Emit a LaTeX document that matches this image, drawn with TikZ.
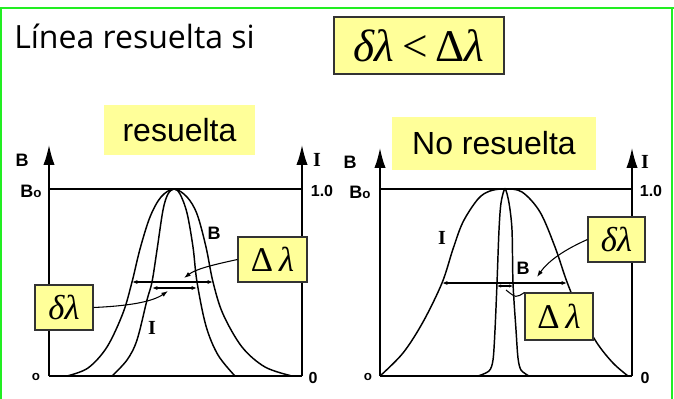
\documentclass[tikz,border=0pt]{standalone}
\usepackage{fontspec}
\setmainfont{Liberation Sans}
\newfontfamily\titlefont{Open Sans}
\newfontfamily\tms{Liberation Serif}
\usetikzlibrary{arrows.meta}
\definecolor{boxyellow}{HTML}{FFFF99}
\definecolor{framegreen}{HTML}{22EE22}
\begin{document}
\begin{tikzpicture}[x=0.75pt,y=-0.75pt,
  axisline/.style={line width=1.2pt},
  axisarrow/.style={line width=1.2pt,-{Latex[length=15pt,width=8.5pt]}},
  topline/.style={line width=0.8pt},
  curve/.style={line width=1.1pt},
  dim/.style={line width=0.8pt,{Latex[length=4pt,width=3pt]}-{Latex[length=4pt,width=3pt]}},
  leader/.style={line width=0.8pt,-{Latex[length=5pt,width=3.5pt]}},
  plainleader/.style={line width=0.8pt},
  axlab/.style={font=\fontsize{13.5}{13.5}\selectfont\bfseries, inner sep=0pt},
  numlab/.style={font=\fontsize{12}{12}\selectfont\bfseries, inner sep=0pt},
  serlab/.style={font=\fontsize{15}{15}\selectfont\tms\bfseries, inner sep=0pt},
  ybox/.style={fill=boxyellow, draw=black!80, line width=0.8pt, inner sep=0pt},
  headbox/.style={fill=boxyellow, inner sep=0pt, font=\fontsize{24}{24}\selectfont},
  greek/.style={font=\fontsize{26}{26}\selectfont\tms}
]
\useasboundingbox (0,0) rectangle (674,399);
\fill[white] (0,0) rectangle (674,399);
% frame
\draw[framegreen, line width=2.2pt] (0,8) -- (674,8);
\draw[framegreen, line width=1.2pt] (1,8) -- (1,399);
\draw[framegreen, line width=1.2pt] (672,8) -- (672,399);

% title
\node[anchor=base west, inner sep=0pt, font=\fontsize{24}{24}\selectfont\titlefont] (title) at (14,49) {Línea resuelta si};
\node[ybox, minimum width=170*0.75pt, minimum height=57*0.75pt, font=\fontsize{34}{34}\selectfont\tms] (cond) at (419,45.5) {\itshape δλ\/\upshape\,<\,Δ\itshape λ};

% headings
\node[headbox, minimum width=151*0.75pt, minimum height=50*0.75pt] (res) at (179.5,130) {resuelta};
\node[headbox, minimum width=204*0.75pt, minimum height=53*0.75pt] (nores) at (494,143.5) {No resuelta};

% ---------- left graph ----------
\draw[axisline] (49,376) -- (302,376);
\draw[axisarrow] (49,376) -- (49,145);
\draw[axisarrow] (302,376) -- (302,145);
\draw[topline] (49,189) -- (302,189);
% wide B
\draw[curve] plot[smooth, tension=0.55] coordinates {(67,376) (88,368) (107,347) (123,313) (132,282) (140,249) (150,217) (161,197) (174,189) (187,197) (197,214) (206,247) (213,282) (223,314) (242,347) (265,367) (292,376)};
% narrow I
\draw[curve] plot[smooth, tension=0.55] coordinates {(112,376) (127,360) (137,340) (147,300) (152,282) (157,250) (163,210) (168,194) (174,189) (180,194) (187,213) (193,247) (197,282) (206,326) (218,355) (235,376)};
% dimension lines
\coordinate (LW1) at (132,282); \coordinate (LW2) at (213,282);
\coordinate (LN1) at (152,288); \coordinate (LN2) at (197,288);
\draw[dim] (LW1) -- (LW2);
\draw[dim] (LN1) -- (LN2);
% labels
\node[axlab] (lB) at (22,160) {B};
\node[axlab] (lBo) at (31,191) {B{\fontsize{10}{10}\selectfont o}};
\node[serlab] (lI) at (317,160) {I};
\node[numlab] (l10) at (322,191) {1.0};
\node[axlab] (lo) at (36,377) {{\fontsize{10}{10}\selectfont o}};
\node[numlab] (l0) at (313,378) {0};
\node[axlab] (lcB) at (214,233) {B};
\node[serlab] (lcI) at (152,328) {I};
% boxes
\node[ybox, minimum width=69*0.75pt, minimum height=45*0.75pt, greek] (lDL) at (272.5,259.5) {Δ\,\itshape λ};
\node[ybox, minimum width=58*0.75pt, minimum height=45*0.75pt, greek] (ldl) at (64,307.5) {\itshape δλ};
\coordinate (lDLt) at (184,278);
\coordinate (ldlt) at (168,291);
\draw[leader] (lDL.west) .. controls (212,265) and (196,269) .. (lDLt);
\draw[leader] (ldl.east) .. controls (128,306) and (152,302) .. (ldlt);

% ---------- right graph ----------
\draw[axisline] (380,376) -- (632,376);
\draw[axisarrow] (380,376) -- (380,148);
\draw[axisarrow] (632,376) -- (632,148);
\draw[topline] (380,189) -- (632,189);
% wide I
\draw[curve] plot[smooth, tension=0.55] coordinates {(380,376) (403,353) (423,322) (442,283) (453,249) (463,222) (478,199) (490,191) (505,189) (522,192) (540,212) (555,247) (567,282) (580,313) (597,343) (613,363) (628,376)};
% narrow B
\draw[curve] plot[smooth, tension=0.5] coordinates {(478,376) (489,371) (493,360) (495,330) (497,283) (499,230) (501,203) (505,189) (509,203) (512,230) (513,283) (516,330) (518,358) (521,370) (529,376)};
\coordinate (RW1) at (442,283); \coordinate (RW2) at (567,283);
\coordinate (RN1) at (497,286); \coordinate (RN2) at (513,286);
\draw[dim] (RW1) -- (RW2);
\draw[line width=0.8pt,{Latex[length=3pt,width=2.5pt]}-{Latex[length=3pt,width=2.5pt]}] (RN1) -- (RN2);
\node[axlab] (rB) at (350,162) {B};
\node[axlab] (rBo) at (360,192) {B{\fontsize{10}{10}\selectfont o}};
\node[serlab] (rI) at (645,162) {I};
\node[numlab] (r10) at (651,191) {1.0};
\node[axlab] (ro) at (368,377) {{\fontsize{10}{10}\selectfont o}};
\node[numlab] (r0) at (645,378) {0};
\node[serlab] (rcI) at (442,238) {I};
\node[axlab] (rcB) at (523,268) {B};
\node[ybox, minimum width=57*0.75pt, minimum height=45*0.75pt, greek] (rdl) at (616.5,239.5) {\itshape δλ};
\node[ybox, minimum width=68*0.75pt, minimum height=47*0.75pt, greek] (rDL) at (559,316.5) {Δ\,\itshape λ};
\coordinate (rdlt) at (537,277);
\coordinate (rDLt) at (506,290);
\draw[leader] (rdl.west) .. controls (566,249) and (549,260) .. (rdlt);
\draw[plainleader] (rDL.north west) .. controls (516,298) .. (rDLt);
\end{tikzpicture}
\end{document}
